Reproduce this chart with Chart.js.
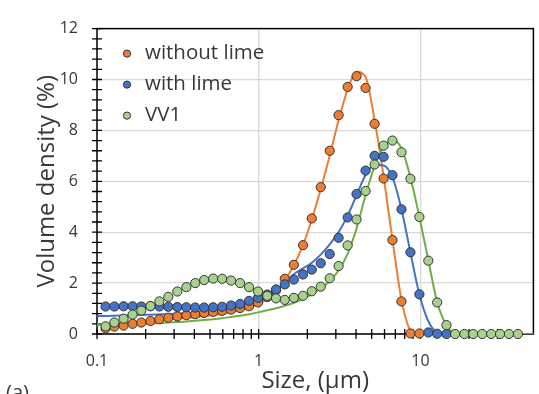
<!DOCTYPE html>
<html>
<head>
<meta charset="utf-8">
<script src="https://cdn.jsdelivr.net/npm/chart.js@4.4.1/dist/chart.umd.min.js"></script>
<style>
  html, body { margin: 0; padding: 0; background: #fff; }
  #wrap { width: 539px; height: 394px; }
</style>
</head>
<body>
<div id="wrap"><canvas id="psdChart" width="539" height="394"></canvas></div>
<script>
// particle sizes (µm) of the measured points
var sizes = [0.113, 0.128, 0.146, 0.166, 0.188, 0.214, 0.243, 0.276, 0.314, 0.357,
  0.405, 0.46, 0.523, 0.594, 0.675, 0.767, 0.872, 0.991, 1.13, 1.28,
  1.45, 1.65, 1.88, 2.13, 2.42, 2.75, 3.12, 3.55, 4.03, 4.58,
  5.21, 5.92, 6.72, 7.64, 8.68, 9.86, 11.2, 12.7, 14.5, 16.4,
  18.7, 21.2, 24.1, 27.4, 31.1, 35.3, 40.1];

// measured volume density (%)
var withoutLime = [0.22, 0.29, 0.33, 0.40, 0.45, 0.51, 0.58, 0.64, 0.69, 0.74,
  0.78, 0.83, 0.87, 0.91, 0.96, 1.02, 1.09, 1.24, 1.45, 1.72,
  2.17, 2.72, 3.49, 4.54, 5.77, 7.20, 8.60, 9.71, 10.13, 9.67,
  8.26, 6.11, 3.69, 1.28, 0.02, 0.02];
var withLime = [1.08, 1.08, 1.09, 1.09, 1.08, 1.09, 1.08, 1.07, 1.06, 1.05,
  1.04, 1.04, 1.05, 1.07, 1.12, 1.18, 1.30, 1.42, 1.55, 1.75,
  1.95, 2.14, 2.34, 2.53, 2.78, 3.14, 3.78, 4.58, 5.50, 6.42,
  7.00, 6.96, 6.24, 4.90, 3.21, 1.56, 0.06, 0.01, 0.00];
var vv1 = [0.30, 0.45, 0.60, 0.76, 0.92, 1.10, 1.28, 1.46, 1.67, 1.84,
  2.00, 2.12, 2.18, 2.17, 2.10, 2.00, 1.84, 1.67, 1.50, 1.40,
  1.34, 1.42, 1.50, 1.68, 1.86, 2.19, 2.67, 3.48, 4.50, 5.62,
  6.66, 7.40, 7.60, 7.14, 6.10, 4.60, 2.88, 1.24, 0.35, 0.00,
  0.00, 0.00, 0.00, 0.00, 0.00, 0.00, 0.00];

// fitted curves
var fitSizes = [0.1, 0.113, 0.128, 0.146, 0.166, 0.188, 0.214, 0.243, 0.276, 0.314,
  0.357, 0.405, 0.46, 0.523, 0.594, 0.675, 0.767, 0.872, 0.991, 1.13,
  1.28, 1.45, 1.65, 1.88, 2.13, 2.42, 2.75, 3.12, 3.55, 4.03,
  4.58, 5.21, 5.92, 6.72, 7.64, 8.68, 9.86, 11.2, 12.7, 14.5,
  16.4, 18.7, 21.2, 24.1, 27.4, 31.1, 35.3, 40.1, 45.6, 50];
var fitWithoutLime = [0.38, 0.40, 0.42, 0.44, 0.46, 0.48, 0.51, 0.54, 0.57, 0.60,
  0.63, 0.66, 0.70, 0.74, 0.79, 0.85, 0.93, 1.03, 1.17, 1.38,
  1.68, 2.10, 2.70, 3.50, 4.50, 5.70, 7.00, 8.40, 9.60, 10.30,
  10.10, 8.40, 6.20, 3.70, 1.35, 0.15, 0, 0, 0, 0,
  0, 0, 0, 0, 0, 0, 0, 0, 0, 0];
var fitWithLime = [0.70, 0.71, 0.72, 0.73, 0.74, 0.75, 0.76, 0.77, 0.78, 0.80,
  0.82, 0.84, 0.87, 0.90, 0.94, 0.99, 1.06, 1.15, 1.28, 1.45,
  1.70, 2.02, 2.35, 2.58, 2.80, 3.12, 3.52, 4.00, 4.65, 5.45,
  6.25, 6.65, 6.62, 6.15, 4.90, 3.20, 1.55, 0.50, 0.06, 0,
  0, 0, 0, 0, 0, 0, 0, 0, 0, 0];
var fitVV1 = [0.35, 0.36, 0.37, 0.38, 0.39, 0.40, 0.41, 0.43, 0.45, 0.47,
  0.49, 0.52, 0.55, 0.58, 0.62, 0.67, 0.72, 0.78, 0.85, 0.93,
  1.01, 1.11, 1.23, 1.38, 1.57, 1.80, 2.08, 2.50, 3.15, 4.15,
  5.45, 6.60, 7.35, 7.60, 7.30, 6.15, 4.60, 2.90, 1.25, 0.35,
  0.03, 0, 0, 0, 0, 0, 0, 0, 0, 0];

var xTicks = [0.1, 1, 10];
var xMinorTicks = [0.2, 0.3, 0.4, 0.5, 0.6, 0.7, 0.8, 0.9, 2, 3, 4, 5, 6, 7, 8, 9, 20, 30, 40];
var yTicks = [0, 2, 4, 6, 8, 10, 12];
var yMinorStep = 0.4;

var orange = '#ED7D31', blue = '#4472C4', green = '#70AD47', lightGreen = '#A9D18E';
var textColor = '#383838';
var fontName = "'Open Sans', sans-serif";

function pairs(xs, ys) {
    return ys.map(function (y, i) { return { x: xs[i], y: y }; });
}

function pointSet(label, vals, fill, order) {
    return {
        label: label,
        data: pairs(sizes, vals),
        showLine: false,
        pointRadius: 4.6,
        pointBackgroundColor: fill,
        pointBorderColor: '#333',
        pointBorderWidth: 1,
        order: order,
        clip: false
    };
}

function fitSet(vals, color, order) {
    return {
        label: '',
        data: pairs(fitSizes, vals),
        showLine: true,
        borderColor: color,
        borderWidth: 2,
        pointRadius: 0,
        cubicInterpolationMode: 'monotone',
        order: order,
        isFit: true
    };
}

// tick marks that cross the axes, plus the black frame
var frame = {
    id: 'frame',
    beforeDatasetsDraw: function (chart) {
        var ctx = chart.ctx, a = chart.chartArea;
        var xs = chart.scales.x, ys = chart.scales.y;
        ctx.save();
        ctx.strokeStyle = '#000';
        ctx.lineWidth = 1.5;
        ctx.strokeRect(a.left, a.top, a.right - a.left, a.bottom - a.top);
        ctx.lineWidth = 1.3;
        ctx.beginPath();
        xTicks.concat(xMinorTicks).forEach(function (v) {
            var px = xs.getPixelForValue(v);
            ctx.moveTo(px, a.bottom - 5);
            ctx.lineTo(px, a.bottom + 5);
        });
        for (var v = 0; v <= 12.001; v += yMinorStep) {
            var py = ys.getPixelForValue(v);
            ctx.moveTo(a.left - 5, py);
            ctx.lineTo(a.left + 5, py);
        }
        ctx.stroke();
        ctx.restore();
    },
    afterDraw: function (chart) {
        var ctx = chart.ctx, a = chart.chartArea;
        ctx.save();
        // legend inside the plot
        ctx.font = '20.5px ' + fontName;
        ctx.textBaseline = 'middle';
        var rows = chart.data.datasets.filter(function (d) { return !d.isFit; });
        rows.forEach(function (d, i) {
            var y = a.top + 25 + i * 31;
            ctx.beginPath();
            ctx.arc(a.left + 30, y, 3.6, 0, Math.PI * 2);
            ctx.fillStyle = d.pointBackgroundColor;
            ctx.fill();
            ctx.strokeStyle = '#333';
            ctx.lineWidth = 1;
            ctx.stroke();
            ctx.fillStyle = textColor;
            ctx.fillText(d.label, a.left + 48, y);
        });
        ctx.font = '20px ' + fontName;
        ctx.textBaseline = 'top';
        ctx.fillText('(a)', 6, 383);
        ctx.restore();
    }
};

var canvas = document.getElementById('psdChart');
var myChart = new Chart(canvas.getContext('2d'), {
    type: 'scatter',
    data: {
        datasets: [
            fitSet(fitWithoutLime, orange, 6),
            fitSet(fitWithLime, blue, 5),
            fitSet(fitVV1, green, 4),
            pointSet('without lime', withoutLime, orange, 3),
            pointSet('with lime', withLime, blue, 2),
            pointSet('VV1', vv1, lightGreen, 1)
        ]
    },
    options: {
        responsive: false,
        animation: false,
        devicePixelRatio: 1,
        layout: { padding: { top: 19, right: 1, left: 0, bottom: 0 } },
        plugins: {
            legend: { display: false },
            tooltip: { enabled: false }
        },
        scales: {
            x: {
                type: 'logarithmic',
                min: 0.1,
                max: 50,
                afterBuildTicks: function (s) { s.ticks = xTicks.map(function (v) { return { value: v }; }); },
                afterFit: function (s) { s.height = 60; },
                ticks: {
                    autoSkip: false,
                    maxRotation: 0,
                    padding: 18,
                    color: textColor,
                    font: { family: fontName, size: 16 },
                    callback: function (v) { return String(v); }
                },
                grid: {
                    drawTicks: false,
                    color: function (c) { return c.tick && c.tick.value === 0.1 ? 'rgba(0,0,0,0)' : '#d9d9d9'; },
                    lineWidth: 1.3
                },
                border: { display: false },
                title: {
                    display: true,
                    text: 'Size, (µm)',
                    color: textColor,
                    font: { family: fontName, size: 24, lineHeight: 1 },
                    padding: { top: 0, bottom: 1 }
                }
            },
            y: {
                min: 0,
                max: 12,
                afterBuildTicks: function (s) { s.ticks = yTicks.map(function (v) { return { value: v }; }); },
                afterFit: function (s) { s.width = 97; },
                ticks: {
                    padding: 19,
                    color: textColor,
                    font: { family: fontName, size: 16 }
                },
                grid: {
                    drawTicks: false,
                    color: '#d9d9d9',
                    lineWidth: 1.3
                },
                border: { display: false },
                title: {
                    display: true,
                    text: 'Volume density (%)',
                    color: textColor,
                    font: { family: fontName, size: 24, lineHeight: 1 },
                    padding: { top: 35, bottom: 0 }
                }
            }
        }
    },
    plugins: [frame]
});
</script>
</body>
</html>
